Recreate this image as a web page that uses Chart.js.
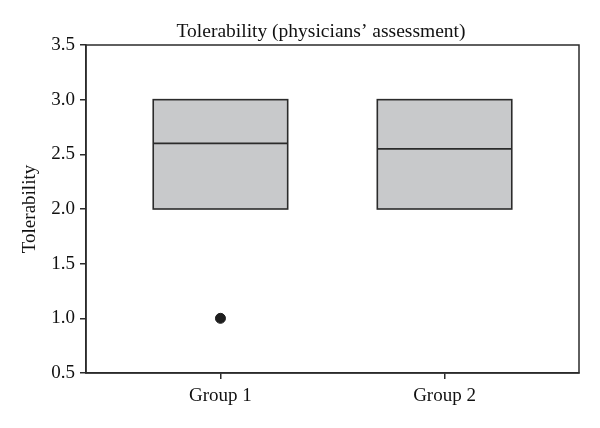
<!DOCTYPE html>
<html>
<head>
<meta charset="utf-8">
<script src="https://cdn.jsdelivr.net/npm/chart.js@4.4.0/dist/chart.umd.min.js"></script>
<style>
  body { margin: 0; background: #fff; }
  #wrap { width: 600px; height: 428px; }
</style>
</head>
<body>
<div id="wrap"><canvas id="myChart"></canvas></div>
<script>
const groups = ["Group 1", "Group 2"];
const groupPos = [1, 2];
const q1 = [2.0, 2.0];
const q3 = [3.0, 3.0];
const medians = [2.6, 2.55];
const outliers = [{ x: 1, y: 1.0 }];
const yTicks = [0.5, 1.0, 1.5, 2.0, 2.5, 3.0, 3.5];

const serif = "'Liberation Serif', 'DejaVu Serif', serif";
const ink = "#2b2b2b";

// boxes, frame and title drawn with the chart's own scales
const boxPlugin = {
  id: "boxes",
  beforeDatasetsDraw(chart) {
    const { ctx, scales } = chart;
    const xs = scales.x, ys = scales.y;
    const half = 0.3;
    ctx.save();
    ctx.lineWidth = 1.6;
    ctx.strokeStyle = ink;
    groupPos.forEach((g, i) => {
      const l = xs.getPixelForValue(g - half);
      const r = xs.getPixelForValue(g + half);
      const top = ys.getPixelForValue(q3[i]);
      const bot = ys.getPixelForValue(q1[i]);
      ctx.fillStyle = "#c8c9cb";
      ctx.fillRect(l, top, r - l, bot - top);
      ctx.strokeRect(l, top, r - l, bot - top);
      const m = ys.getPixelForValue(medians[i]);
      ctx.beginPath();
      ctx.moveTo(l, m);
      ctx.lineTo(r, m);
      ctx.stroke();
    });
    ctx.restore();
  },
  afterDraw(chart) {
    const { ctx, chartArea: a } = chart;
    ctx.save();
    ctx.strokeStyle = ink;
    ctx.lineWidth = 1.5;
    ctx.strokeRect(a.left, a.top, a.right - a.left, a.bottom - a.top);
    ctx.fillStyle = "#111";
    ctx.font = "19.5px " + serif;
    ctx.textAlign = "center";
    ctx.textBaseline = "alphabetic";
    ctx.fillText("Tolerability (physicians\u2019 assessment)", 321, 37);
    ctx.restore();
  },
};

new Chart(document.getElementById("myChart"), {
  type: "scatter",
  data: {
    datasets: [
      {
        label: "Outliers",
        data: outliers,
        backgroundColor: "#1e1e1e",
        borderColor: "#1e1e1e",
        pointRadius: 5,
      },
    ],
  },
  options: {
    responsive: true,
    maintainAspectRatio: false,
    animation: false,
    layout: { padding: { top: 45, right: 21, bottom: 0, left: 0 } },
    plugins: {
      legend: { display: false },
      tooltip: { enabled: false },
      title: { display: false },
    },
    scales: {
      x: {
        type: "linear",
        min: 0.4,
        max: 2.6,
        afterFit: (s) => { s.height = 55; },
        afterBuildTicks: (s) => { s.ticks = groupPos.map((v) => ({ value: v })); },
        ticks: {
          color: "#111",
          font: { family: serif, size: 19 },
          padding: 6,
          callback: (v) => groups[groupPos.indexOf(v)] || "",
        },
        grid: { display: true, drawOnChartArea: false, tickLength: 6, color: ink, lineWidth: 1.5 },
        border: { display: true, color: ink, width: 1.5 },
      },
      y: {
        min: 0.5,
        max: 3.5,
        afterFit: (s) => { s.width = 86; },
        afterBuildTicks: (s) => { s.ticks = yTicks.map((v) => ({ value: v })); },
        ticks: {
          color: "#111",
          font: { family: serif, size: 19 },
          padding: 5,
          callback: (v) => v.toFixed(1),
        },
        title: {
          display: true,
          text: "Tolerability",
          color: "#111",
          font: { family: serif, size: 19 },
          padding: { top: 19, bottom: 4 },
        },
        grid: { display: true, drawOnChartArea: false, tickLength: 6, color: ink, lineWidth: 1.5 },
        border: { display: true, color: ink, width: 1.5 },
      },
    },
  },
  plugins: [boxPlugin],
});
</script>
</body>
</html>
